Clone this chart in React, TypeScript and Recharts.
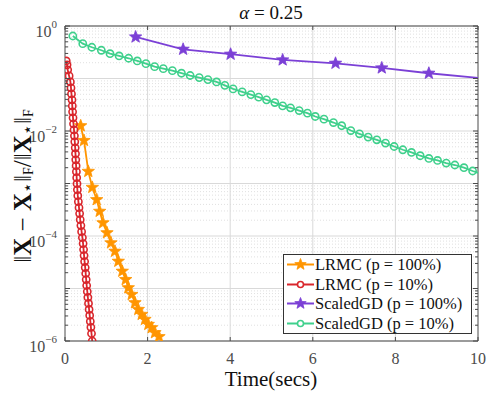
import React from "react";
import { LineChart, Line, XAxis, YAxis, ReferenceLine } from "recharts";

// LRMC (p = 100%)
const lrmcFullT = [0.38, 0.46, 0.564, 0.661, 0.768, 0.84, 0.92, 1.017, 1.114, 1.211, 1.291, 1.387, 1.47, 1.533, 1.615, 1.695, 1.775, 1.857, 1.937, 2.017, 2.099, 2.179, 2.276];
const lrmcFullV = [0.01256, 0.00659, 0.0017, 0.000843, 0.000492, 0.000295, 0.000178, 0.000115, 7.4e-5, 5.12e-5, 3.3e-5, 2.13e-5, 1.48e-5, 1.03e-5, 7.69e-6, 5.35e-6, 3.99e-6, 3.21e-6, 2.58e-6, 2.07e-6, 1.79e-6, 1.44e-6, 1.21e-6];

// LRMC (p = 10%)
const lrmcSubT = [0.03, 0.05, 0.065, 0.1, 0.13, 0.145, 0.157, 0.17, 0.177, 0.184, 0.194, 0.206, 0.218, 0.228, 0.237, 0.247, 0.254, 0.261, 0.269, 0.276, 0.283, 0.291, 0.3, 0.31, 0.324, 0.339, 0.354, 0.368, 0.385, 0.402, 0.421, 0.438, 0.45, 0.462, 0.475, 0.489, 0.501, 0.513, 0.525, 0.54, 0.554, 0.569, 0.583, 0.598, 0.613, 0.627, 0.642, 0.659];
const lrmcSubV = [0.216, 0.182, 0.146, 0.112, 0.0862, 0.0662, 0.0509, 0.0392, 0.0301, 0.0232, 0.0178, 0.0137, 0.0105, 0.0081, 0.00623, 0.00479, 0.00369, 0.00283, 0.00218, 0.00168, 0.00129, 0.000991, 0.000762, 0.000586, 0.000451, 0.000347, 0.000267, 0.000205, 0.000158, 0.000121, 9.33e-5, 7.18e-5, 5.51e-5, 4.24e-5, 3.26e-5, 2.51e-5, 1.93e-5, 1.48e-5, 1.14e-5, 8.77e-6, 6.75e-6, 5.19e-6, 3.99e-6, 3.07e-6, 2.36e-6, 1.82e-6, 1.39e-6, 1.0e-6];

// ScaledGD (p = 100%)
const sgdFullT = [1.71, 2.86, 4.01, 5.27, 6.55, 7.67, 8.81, 10];
const sgdFullV = [0.618, 0.36, 0.29, 0.226, 0.195, 0.159, 0.126, 0.103];

// ScaledGD (p = 10%)
const sgdSubT = [0.19, 0.43, 0.65, 0.88, 1.09, 1.31, 1.54, 1.75, 1.96, 2.17, 2.38, 2.6, 2.82, 3.03, 3.25, 3.46, 3.67, 3.87, 4.07, 4.29, 4.5, 4.69, 4.88, 5.08, 5.27, 5.46, 5.67, 5.87, 6.06, 6.27, 6.5, 6.7, 6.92, 7.13, 7.34, 7.55, 7.76, 7.97, 8.18, 8.39, 8.6, 8.81, 9.02, 9.23, 9.44, 9.66, 9.87, 10];
const sgdSubV = [0.645, 0.461, 0.394, 0.345, 0.297, 0.269, 0.243, 0.216, 0.192, 0.168, 0.154, 0.141, 0.126, 0.114, 0.104, 0.0953, 0.086, 0.074, 0.0634, 0.0556, 0.0494, 0.0441, 0.0392, 0.0348, 0.0301, 0.0276, 0.0245, 0.0219, 0.0189, 0.0168, 0.0145, 0.0126, 0.0102, 0.00885, 0.00766, 0.0068, 0.00589, 0.00507, 0.00439, 0.0039, 0.00338, 0.003, 0.00275, 0.00245, 0.00225, 0.002, 0.00173, 0.0016];

const xTicks = [0, 2, 4, 6, 8, 10];
const decades = [1e-6, 1e-5, 1e-4, 1e-3, 1e-2, 1e-1];
const minorSteps = [1, 2, 3, 4, 5, 6, 7, 8, 9];
const yLabelDecades = [-6, -4, -2, 0];

const seriesNames = ["LRMC (p = 100%)", "LRMC (p = 10%)", "ScaledGD (p = 100%)", "ScaledGD (p = 10%)"];
const colors = ["#ff9500", "#d9262c", "#7b40d6", "#3fd08c"];

const yTicks: number[] = [];
decades.forEach((d) => minorSteps.forEach((m) => yTicks.push(+(d * m).toPrecision(3))));
yTicks.push(1);

const toPts = (ts: number[], vs: number[]) => ts.map((t, i) => ({ t, v: vs[i] }));

const W = 488;
const H = 394;
const PL = 65;
const PR = 478;
const PT = 26;
const PB = 341;
const AX = "#4a4a4a";
const FONT = "'Liberation Serif', 'Times New Roman', 'DejaVu Serif', serif";

function starPath(cx: number, cy: number, R: number) {
  const r = R * 0.42;
  let d = "";
  for (let i = 0; i < 10; i++) {
    const a = -Math.PI / 2 + (i * Math.PI) / 5;
    const rr = i % 2 === 0 ? R : r;
    d += (i === 0 ? "M" : "L") + (cx + rr * Math.cos(a)).toFixed(2) + "," + (cy + rr * Math.sin(a)).toFixed(2);
  }
  return d + "Z";
}

const starDot = (color: string, skipLast: boolean, n: number) => (p: any) => {
  if (p.cx == null || p.cy == null || (skipLast && p.index === n - 1)) return <g key={`s-${p.index}`} />;
  return <path key={`s-${p.index}`} d={starPath(p.cx, p.cy, 6.5)} fill={color} stroke={color} strokeWidth={0.8} />;
};

const circleDot = (color: string, skipLast: boolean, n: number) => (p: any) => {
  if (p.cx == null || p.cy == null || (skipLast && p.index === n - 1)) return <g key={`c-${p.index}`} />;
  return <circle key={`c-${p.index}`} cx={p.cx} cy={p.cy} r={3.6} fill="none" stroke={color} strokeWidth={1.6} />;
};

const XTick = (props: any) => {
  const { x, payload } = props;
  return (
    <g>
      <line x1={x} y1={PB} x2={x} y2={PB - 4} stroke={AX} />
      <line x1={x} y1={PT} x2={x} y2={PT + 4} stroke={AX} />
      <text x={x} y={358} textAnchor="middle" dominantBaseline="central" fontFamily={FONT} fontSize={16} fill={AX}>
        {payload.value}
      </text>
    </g>
  );
};

const YTick = (props: any) => {
  const { y, payload } = props;
  const v: number = payload.value;
  const e = Math.round(Math.log10(v));
  const major = Math.abs(v / Math.pow(10, e) - 1) < 1e-6;
  const len = major ? 5 : 3;
  const showLabel = major && yLabelDecades.includes(e);
  return (
    <g>
      <line x1={PL} y1={y} x2={PL + len} y2={y} stroke={AX} />
      <line x1={PR} y1={y} x2={PR - len} y2={y} stroke={AX} />
      {showLabel && (
        <text x={57} y={y + 5} textAnchor="end" dominantBaseline="central" fontFamily={FONT} fontSize={16} fill={AX}>
          10
          <tspan dy={-7} fontSize={11}>{e === 0 ? "0" : "\u2212" + Math.abs(e)}</tspan>
        </text>
      )}
    </g>
  );
};

function LegendBox() {
  const kinds = ["star", "circle", "star", "circle"];
  return (
    <div
      style={{
        position: "absolute",
        left: 283,
        top: 254,
        width: 187,
        height: 78,
        border: "1px solid #333",
        background: "#fff",
        fontFamily: FONT,
        fontSize: 16.5,
        color: "#111",
      }}
    >
      {kinds.map((k, i) => (
        <div key={i} style={{ height: 19.5, display: "flex", alignItems: "center" }}>
          <svg width={31} height={19} style={{ flex: "none" }}>
            <line x1={3} y1={9.5} x2={30} y2={9.5} stroke={colors[i]} strokeWidth={2} />
            {k === "star" ? (
              <path d={starPath(16.5, 9.5, 6)} fill={colors[i]} stroke={colors[i]} strokeWidth={0.8} />
            ) : (
              <circle cx={16.5} cy={9.5} r={3} fill="#fff" stroke={colors[i]} strokeWidth={1.6} />
            )}
          </svg>
          <span style={{ whiteSpace: "nowrap", lineHeight: "19px" }}>{seriesNames[i]}</span>
        </div>
      ))}
    </div>
  );
}

export default function App() {
  const lrmcFull = toPts(lrmcFullT, lrmcFullV);
  const lrmcSub = toPts(lrmcSubT, lrmcSubV);
  const sgdFull = toPts(sgdFullT, sgdFullV);
  const sgdSub = toPts(sgdSubT, sgdSubV);

  return (
    <div style={{ position: "absolute", left: 0, top: 0, width: W, height: H, background: "#fff" }}>
      <LineChart width={W} height={H} margin={{ top: PT, right: W - PR, bottom: 23, left: 8 }}>
        {yTicks.map((v) => {
          const e = Math.round(Math.log10(v));
          const major = Math.abs(v / Math.pow(10, e) - 1) < 1e-6;
          return (
            <ReferenceLine
              key={`gy-${v}`}
              y={v}
              stroke={major ? "#d9d9d9" : "#e0e0e0"}
              strokeDasharray={major ? undefined : "1 2"}
              strokeWidth={1}
            />
          );
        })}
        {xTicks.slice(1, -1).map((t) => (
          <ReferenceLine key={`gx-${t}`} x={t} stroke="#d9d9d9" strokeWidth={1} />
        ))}
        <ReferenceLine y={1} stroke={AX} />
        <ReferenceLine x={10} stroke={AX} />
        <XAxis
          type="number"
          dataKey="t"
          domain={[0, 10]}
          ticks={xTicks}
          interval={0}
          allowDataOverflow
          tickLine={false}
          axisLine={{ stroke: AX }}
          tick={<XTick />}
          height={30}
        />
        <YAxis
          type="number"
          scale="log"
          domain={[1e-6, 1]}
          ticks={yTicks}
          interval={0}
          allowDataOverflow
          tickLine={false}
          axisLine={{ stroke: AX }}
          tick={<YTick />}
          width={57}
        />
        <Line data={lrmcFull} dataKey="v" type="linear" stroke={colors[0]} strokeWidth={1.8} dot={starDot(colors[0], false, lrmcFull.length)} isAnimationActive={false} />
        <Line data={lrmcSub} dataKey="v" type="linear" stroke={colors[1]} strokeWidth={1.8} dot={circleDot(colors[1], false, lrmcSub.length)} isAnimationActive={false} />
        <Line data={sgdFull} dataKey="v" type="linear" stroke={colors[2]} strokeWidth={1.8} dot={starDot(colors[2], true, sgdFull.length)} isAnimationActive={false} />
        <Line data={sgdSub} dataKey="v" type="linear" stroke={colors[3]} strokeWidth={1.8} dot={circleDot(colors[3], true, sgdSub.length)} isAnimationActive={false} />
      </LineChart>
      <svg width={W} height={H} style={{ position: "absolute", left: 0, top: 0, pointerEvents: "none" }}>
        <text x={271} y={12} textAnchor="middle" dominantBaseline="central" fontFamily={FONT} fontSize={19} fill="#111">
          <tspan fontStyle="italic">α</tspan> = 0.25
        </text>
        <text x={271} y={379} textAnchor="middle" dominantBaseline="central" fontFamily={FONT} fontSize={21} fill="#111">
          Time(secs)
        </text>
        <text
          transform="translate(22,186) rotate(-90)"
          textAnchor="middle"
          dominantBaseline="central"
          fontFamily={FONT}
          fontSize={25}
          fill="#111"
        >
          ‖<tspan fontWeight="bold">X</tspan> − <tspan fontWeight="bold">X</tspan>
          <tspan dy={5} fontSize={17}>⋆</tspan>
          <tspan dy={-5}>‖</tspan>
          <tspan dy={6} fontSize={14}>F</tspan>
          <tspan dy={-6}>/‖</tspan>
          <tspan fontWeight="bold">X</tspan>
          <tspan dy={5} fontSize={17}>⋆</tspan>
          <tspan dy={-5}>‖</tspan>
          <tspan dy={6} fontSize={14}>F</tspan>
        </text>
      </svg>
      <LegendBox />
    </div>
  );
}
